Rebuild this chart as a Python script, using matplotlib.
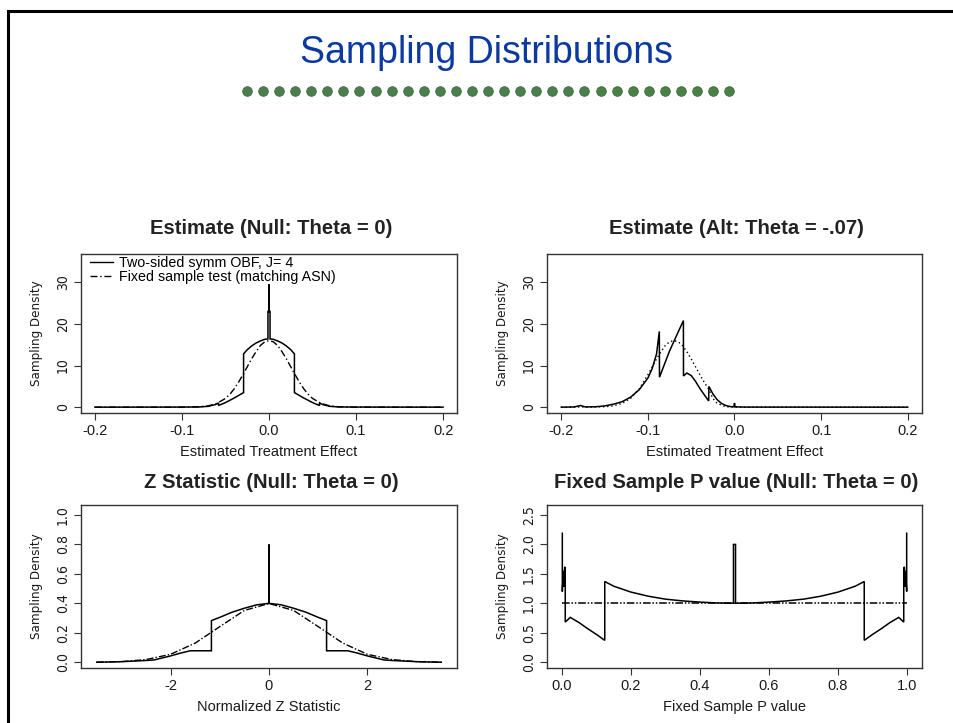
import matplotlib
matplotlib.use("Agg")
import matplotlib.pyplot as plt
from matplotlib.lines import Line2D
from matplotlib import font_manager
from matplotlib.font_manager import FontProperties

# ---------------- data ----------------
title_main = "Sampling Distributions"
panel_titles = ["Estimate (Null: Theta = 0)", "Estimate (Alt: Theta = -.07)",
                "Z Statistic (Null: Theta = 0)", "Fixed Sample P value (Null: Theta = 0)"]
x_labels = ["Estimated Treatment Effect", "Estimated Treatment Effect",
            "Normalized Z Statistic", "Fixed Sample P value"]
y_label = "Sampling Density"
legend_labels = ["Two-sided symm OBF, J= 4", "Fixed sample test (matching ASN)"]

# Panel 1: estimate under null
est_null_gs_x = [-0.2, -0.1, -0.08, -0.07, -0.062, -0.058, -0.058, -0.05, -0.04, -0.0292, -0.0292,
                 -0.025, -0.02, -0.015, -0.01, -0.005, -0.0012, -0.0012, 0.0, 0.0, 0.0, 0.0012, 0.0012,
                 0.005, 0.01, 0.015, 0.02, 0.025, 0.0292, 0.0292, 0.04, 0.05, 0.058, 0.058, 0.062,
                 0.07, 0.08, 0.1, 0.2]
est_null_gs_y = [0.0, 0.02, 0.05, 0.2, 0.6, 1.0, 0.4, 1.1, 2.2, 3.5, 12.8,
                 13.8, 14.7, 15.4, 15.9, 16.3, 16.4, 23.0, 23.0, 29.5, 23.0, 23.0, 16.4,
                 16.3, 15.9, 15.4, 14.7, 13.8, 12.8, 3.5, 2.2, 1.1, 0.4, 1.0, 0.6,
                 0.2, 0.05, 0.02, 0.0]
est_null_fx_x = [-0.2, -0.1, -0.08, -0.07, -0.06, -0.05, -0.045, -0.04, -0.035, -0.03, -0.025, -0.02,
                 -0.015, -0.01, -0.005, 0.0, 0.005, 0.01, 0.015, 0.02, 0.025, 0.03, 0.035, 0.04,
                 0.045, 0.05, 0.06, 0.07, 0.08, 0.1, 0.2]
est_null_fx_y = [0.0, 0.0, 0.1, 0.3, 0.9, 2.1, 3.1, 4.4, 6.0, 7.8, 9.7, 11.6,
                 13.3, 14.8, 15.7, 16.0, 15.7, 14.8, 13.3, 11.6, 9.7, 7.8, 6.0, 4.4,
                 3.1, 2.1, 0.9, 0.3, 0.1, 0.0, 0.0]

# Panel 2: estimate under alternative
est_alt_gs_x = [-0.2, -0.185, -0.178, -0.172, -0.16, -0.15, -0.14, -0.13, -0.12, -0.11, -0.1, -0.095,
                -0.09, -0.0868, -0.0866, -0.075, -0.059, -0.0589, -0.055, -0.05, -0.045, -0.04,
                -0.035, -0.0298, -0.0296, -0.025, -0.02, -0.015, -0.01, -0.005, -0.0006, 0.0,
                0.0006, 0.01, 0.2]
est_alt_gs_y = [0.0, 0.05, 0.4, 0.05, 0.1, 0.3, 0.7, 1.3, 2.4, 4.2, 7.0, 9.3,
                12.8, 18.2, 7.2, 13.5, 20.8, 7.5, 8.2, 7.6, 6.2, 4.5,
                3.0, 1.5, 5.0, 3.2, 1.8, 0.9, 0.4, 0.15, 0.1, 1.0,
                0.1, 0.02, 0.0]
est_alt_fx_x = [-0.2, -0.15, -0.14, -0.13, -0.12, -0.11, -0.1, -0.095, -0.09, -0.085, -0.08, -0.075,
                -0.07, -0.065, -0.06, -0.055, -0.05, -0.045, -0.04, -0.035, -0.03, -0.025, -0.02,
                -0.01, 0.0, 0.2]
est_alt_fx_y = [0.0, 0.1, 0.3, 0.9, 2.1, 4.4, 7.8, 9.7, 11.6, 13.3, 14.8, 15.7,
                16.0, 15.7, 14.8, 13.3, 11.6, 9.7, 7.8, 6.0, 4.4, 2.1, 0.9,
                0.1, 0.0, 0.0]

# Panel 3: Z statistic under null
z_gs_x = [-3.5, -3.0, -2.5, -2.33, -2.0, -1.8, -1.6, -1.17, -1.17, -1.0, -0.75, -0.5, -0.25,
          0.0, 0.0, 0.0, 0.25, 0.5, 0.75, 1.0, 1.17, 1.17, 1.6, 1.8, 2.0, 2.33, 2.5, 3.0, 3.5]
z_gs_y = [0.0, 0.004, 0.012, 0.016, 0.043, 0.062, 0.078, 0.078, 0.283, 0.305, 0.34, 0.367, 0.39,
          0.40, 0.80, 0.40, 0.39, 0.367, 0.34, 0.305, 0.283, 0.078, 0.078, 0.062, 0.043, 0.016,
          0.012, 0.004, 0.0]
z_fx_x = [-3.5, -3.0, -2.5, -2.0, -1.5, -1.0, -0.5, 0.0, 0.5, 1.0, 1.5, 2.0, 2.5, 3.0, 3.5]
z_fx_y = [0.001, 0.004, 0.018, 0.054, 0.13, 0.242, 0.352, 0.399, 0.352, 0.242, 0.13, 0.054,
          0.018, 0.004, 0.001]

# Panel 4: fixed-sample P value under null
p_gs_x = [0.001, 0.001, 0.004, 0.004, 0.008, 0.008, 0.0095, 0.0095, 0.024, 0.05, 0.074, 0.1,
          0.124, 0.124, 0.15, 0.2, 0.25, 0.3, 0.35, 0.4, 0.45, 0.497, 0.497, 0.503, 0.503,
          0.55, 0.6, 0.65, 0.7, 0.75, 0.8, 0.85, 0.876, 0.876, 0.9, 0.926, 0.95, 0.976,
          0.9905, 0.9905, 0.992, 0.992, 0.996, 0.996, 0.999, 0.999]
p_gs_y = [2.19, 1.2, 1.55, 1.28, 1.62, 1.28, 1.6, 0.68, 0.76, 0.67, 0.57, 0.47,
          0.37, 1.37, 1.29, 1.19, 1.12, 1.07, 1.04, 1.02, 1.005, 1.0, 2.0, 2.0, 1.0,
          1.005, 1.02, 1.04, 1.07, 1.12, 1.19, 1.29, 1.37, 0.37, 0.47, 0.57, 0.67, 0.76,
          0.68, 1.6, 1.28, 1.62, 1.28, 1.55, 1.2, 2.19]
p_fx_x = [0.0, 1.0]
p_fx_y = [1.0, 1.0]

x_ticks = [[-0.2, -0.1, 0.0, 0.1, 0.2], [-0.2, -0.1, 0.0, 0.1, 0.2],
           [-2, 0, 2], [0.0, 0.2, 0.4, 0.6, 0.8, 1.0]]
x_ticklabels = [["-0.2", "-0.1", "0.0", "0.1", "0.2"], ["-0.2", "-0.1", "0.0", "0.1", "0.2"],
                ["-2", "0", "2"], ["0.0", "0.2", "0.4", "0.6", "0.8", "1.0"]]
y_ticks = [[0, 10, 20, 30], [0, 10, 20, 30],
           [0.0, 0.2, 0.4, 0.6, 0.8, 1.0], [0.0, 0.5, 1.0, 1.5, 2.0, 2.5]]
y_ticklabels = [["0", "10", "20", "30"], ["0", "10", "20", "30"],
                ["0.0", "0.2", "0.4", "0.6", "0.8", "1.0"],
                ["0.0", "0.5", "1.0", "1.5", "2.0", "2.5"]]

# ---------------- layout / style ----------------
W, H = 954, 723
fig = plt.figure(figsize=(W / 100, H / 100), dpi=100)
fig.patch.set_facecolor("white")

avail = {f.name for f in font_manager.fontManager.ttflist}
main_font = "Liberation Sans" if "Liberation Sans" in avail else "DejaVu Sans"
plt.rcParams["font.family"] = [main_font, "DejaVu Sans"]

# look for a condensed / narrow face for the R-style y axis text
narrow_file = None
for f in font_manager.fontManager.ttflist:
    if f.style == "normal" and f.weight in (400, "normal", "regular") and (
            "Narrow" in f.name or "Condensed" in f.name or
            str(f.stretch) in ("condensed", "semi-condensed")):
        narrow_file = f.fname
        break

def narrow_fp(size):
    if narrow_file:
        return FontProperties(fname=narrow_file, size=size)
    return FontProperties(family=main_font, size=size * 0.85)

def fx(px):
    return px / W

def fy(py):
    return 1 - py / H

# slide border
fig.add_artist(Line2D([fx(8), fx(954)], [fy(11), fy(11)], color="black", lw=2.2,
                      transform=fig.transFigure))
fig.add_artist(Line2D([fx(8), fx(8)], [fy(11), fy(723)], color="black", lw=2.2,
                      transform=fig.transFigure))

fig.text(fx(487), fy(53), title_main, color="#0a3aa0", fontsize=27, ha="center", va="center",
         family=main_font)
dot_count = 31
dot_x = [fx(247 + 16.07 * i) for i in range(dot_count)]
fig.add_artist(Line2D(dot_x, [fy(91)] * dot_count, ls="none", marker="o", ms=7,
                      mfc="#4a7f4a", mec="#3a6a3a", mew=0.5, transform=fig.transFigure))

boxes = [(81, 254, 457, 413), (547, 254, 922, 413), (81, 505, 457, 668), (547, 505, 922, 668)]
xlims = [(-0.216, 0.216), (-0.2165, 0.2165), (-3.82, 3.82), (-0.0434, 1.0434)]
ylims = [(-1.4, 36.8), (-1.4, 36.8), (-0.039, 1.068), (-0.1, 2.67)]
series = [
    (est_null_gs_x, est_null_gs_y, est_null_fx_x, est_null_fx_y),
    (est_alt_gs_x, est_alt_gs_y, est_alt_fx_x, est_alt_fx_y),
    (z_gs_x, z_gs_y, z_fx_x, z_fx_y),
    (p_gs_x, p_gs_y, p_fx_x, p_fx_y),
]
dash_styles = [(0, (5, 2, 1, 2)), (0, (1, 2)), (0, (5, 1.5, 1, 1.5)), (0, (5, 1.2, 1, 1.2, 1, 1.2))]
ink = "#1a1a1a"

for i, (l, t, r, b) in enumerate(boxes):
    ax = fig.add_axes([fx(l), fy(b), fx(r) - fx(l), fy(t) - fy(b)])
    gx, gy, dx, dy = series[i]
    ax.plot(gx, gy, color="black", lw=1.1, solid_joinstyle="miter")
    ax.plot(dx, dy, color="black", lw=1.1 if i == 3 else 1.0, ls=dash_styles[i])
    ax.set_xlim(*xlims[i])
    ax.set_ylim(*ylims[i])
    ax.set_xticks(x_ticks[i])
    ax.set_xticklabels(x_ticklabels[i], fontsize=10.5, color=ink)
    ax.set_yticks(y_ticks[i])
    ax.set_yticklabels(y_ticklabels[i], color=ink, rotation=90, va="center",
                       fontproperties=narrow_fp(10))
    ax.tick_params(length=5, width=0.8, color="#333333", pad=3)
    for s in ax.spines.values():
        s.set_color("#333333")
        s.set_linewidth(1.0)
    ax.set_xlabel(x_labels[i], fontsize=10.5, color=ink, labelpad=5)
    ax.set_ylabel(y_label, color=ink, labelpad=9, fontproperties=narrow_fp(9.5))
    fig.text(fx((l + r) / 2 + 2), fy(229 if i < 2 else 483), panel_titles[i], fontsize=14.6,
             fontweight="bold", ha="center", va="center", color="#222222")
    if i == 0:
        h1 = Line2D([], [], color="black", lw=1.0)
        h2 = Line2D([], [], color="black", lw=1.0, ls=dash_styles[0])
        ax.legend([h1, h2], legend_labels, loc="upper left", frameon=False, fontsize=10.3,
                  handlelength=1.6, handletextpad=0.4, borderaxespad=0.0, borderpad=0.0,
                  bbox_to_anchor=(0.025, 0.985), labelspacing=0.0)

fig.savefig("out.png", dpi=100, facecolor="white")
